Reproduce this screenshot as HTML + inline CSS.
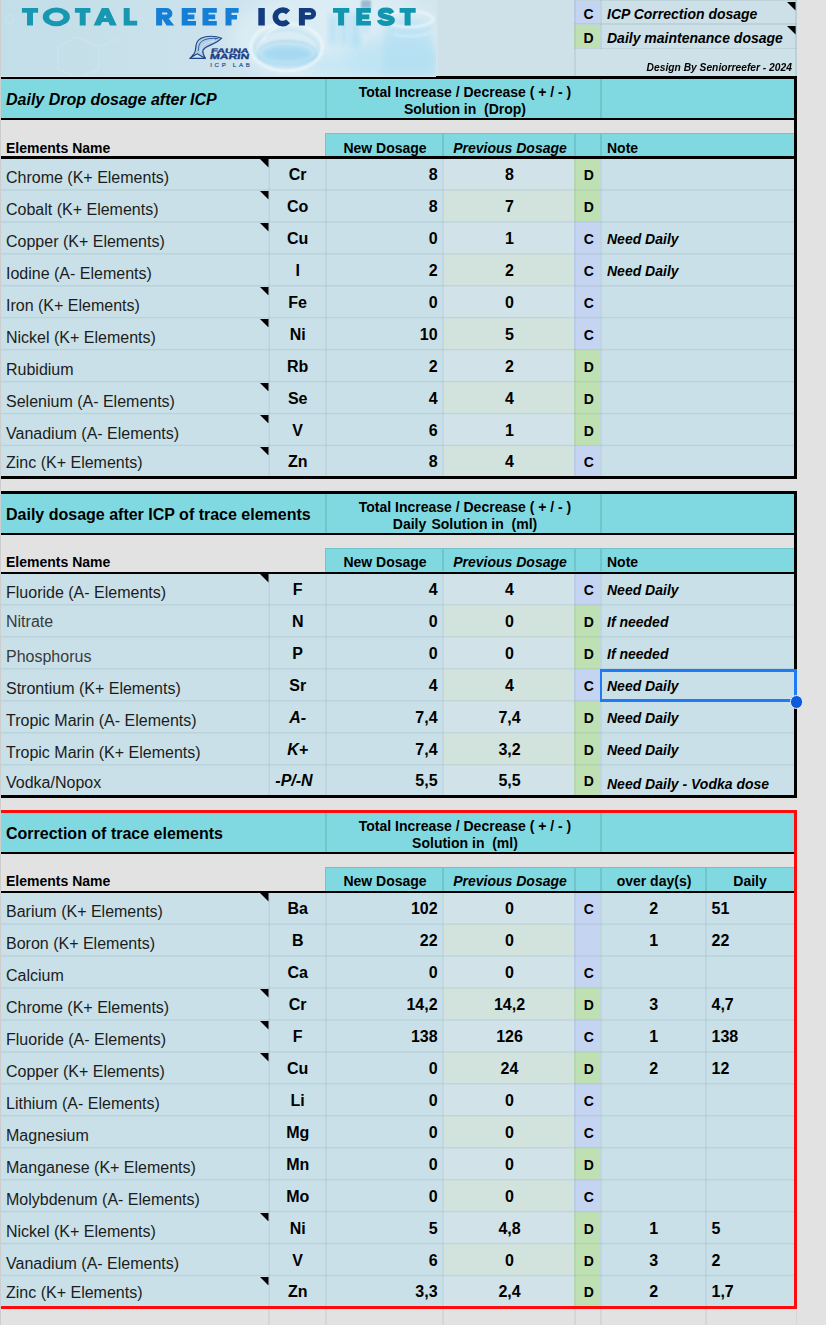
<!DOCTYPE html>
<html><head><meta charset="utf-8"><title>Total Reef ICP Test</title>
<style>
html,body{margin:0;padding:0;}
body{width:826px;height:1325px;position:relative;overflow:hidden;background:#e2e2e2;font-family:"Liberation Sans",sans-serif;color:#000;}
#s{position:absolute;left:0;top:0;width:826px;height:1325px;overflow:hidden;background:#e2e2e2;}
#s div,#s span.t,#s svg.a{position:absolute;}
.t{white-space:nowrap;}
.b{font-weight:bold;}
.bi{font-weight:bold;font-style:italic;}
</style></head><body><div id="s">
<svg class="a" style="left:0;top:0" width="797" height="77" viewBox="0 0 797 77">
<defs>
<linearGradient id="bg" x1="0" x2="1" y1="0" y2="0">
<stop offset="0" stop-color="#c2dee8"/><stop offset=".25" stop-color="#cbe2ec"/><stop offset=".45" stop-color="#d3e7f0"/><stop offset=".548" stop-color="#d3e6ee"/><stop offset=".55" stop-color="#cfe1e8"/><stop offset="1" stop-color="#cfe1e8"/>
</linearGradient>
<filter id="b1" x="-30%" y="-30%" width="160%" height="160%"><feGaussianBlur stdDeviation="1.2"/></filter>
<filter id="b2" x="-30%" y="-30%" width="160%" height="160%"><feGaussianBlur stdDeviation="3"/></filter>
<filter id="b3" x="-30%" y="-30%" width="160%" height="160%"><feGaussianBlur stdDeviation="7"/></filter>
<clipPath id="ph"><rect x="0" y="0" width="436" height="77"/></clipPath>
</defs>
<rect x="0" y="0" width="797" height="77" fill="url(#bg)"/>
<g clip-path="url(#ph)">
<ellipse cx="335" cy="38" rx="105" ry="48" fill="#e2f1f8" opacity=".6" filter="url(#b3)"/>
<ellipse cx="395" cy="58" rx="48" ry="22" fill="#b4e0f2" opacity=".6" filter="url(#b3)"/>
<ellipse cx="345" cy="66" rx="40" ry="12" fill="#b9e4f5" opacity=".6" filter="url(#b3)"/>
<rect x="329" y="14" width="8" height="32" rx="4" fill="#a3dbf3" opacity=".6" filter="url(#b2)"/>
<rect x="340" y="9" width="8" height="38" rx="4" fill="#a3dbf3" opacity=".6" filter="url(#b2)"/>
<rect x="351" y="12" width="9" height="36" rx="4" fill="#9ed8f2" opacity=".6" filter="url(#b2)"/>
<rect x="361" y="0" width="10" height="9" rx="2" fill="#7fa6c4" opacity=".7" filter="url(#b1)"/>
<rect x="362" y="8" width="8" height="26" rx="2" fill="#c4e6f5" opacity=".6" filter="url(#b1)"/>
<ellipse cx="287" cy="54" rx="27" ry="9.5" fill="#8fd2f0" opacity=".7" filter="url(#b2)"/>
<ellipse cx="286.5" cy="47" rx="36" ry="23.5" fill="none" stroke="#f0f8fc" stroke-width="2.6" opacity=".85" filter="url(#b1)"/>
<ellipse cx="286.5" cy="49" rx="32" ry="19" fill="none" stroke="#a6daf2" stroke-width="1.6" opacity=".6" filter="url(#b1)"/>
<ellipse cx="287" cy="53" rx="29" ry="12" fill="none" stroke="#74c4e8" stroke-width="1.3" opacity=".5" filter="url(#b1)"/>
<path d="M262 41q6 -12 22 -16" fill="none" stroke="#ffffff" stroke-width="1.6" opacity=".7" filter="url(#b1)"/>
<path d="M385 24q20 -12 46 0l5 52h-54z" fill="#a9ddf3" opacity=".5" filter="url(#b2)"/>
<ellipse cx="409" cy="19" rx="24" ry="8" fill="none" stroke="#eef8fc" stroke-width="2.2" opacity=".85" filter="url(#b1)"/>
<path d="M394 34q16 6 38 -2" fill="none" stroke="#d9f0fa" stroke-width="2" opacity=".7" filter="url(#b1)"/>
</g>
<g fill="none" stroke="#dcecf3" stroke-width="1.3" opacity=".3">
<path d="M58 47l19 -10l22 10v22l-21 9l-20 -9z"/>
<path d="M6 17l4 -3l4 3v4l-4 3l-4 -3z"/>
<path d="M99 47l20 -9"/>
</g>
<path d="M21.9 8.1h16.2v4.6h-16.2zM27.0 8.1h6.0v17.5h-6.0zM42.7 16.9a13.6 9.3 0 1 0 27.2 0a13.6 9.3 0 1 0 -27.2 0zM49.1 16.9a7.2 4.4 0 1 1 14.4 0a7.2 4.4 0 1 1 -14.4 0zM74.9 8.1h15.5v4.6h-15.5zM79.7 8.1h6.0v17.5h-6.0zM123.7 8.1h6.0v17.5h-6.0zM123.7 20.7h13.5v4.9h-13.5z" fill="#1898b0" fill-rule="nonzero"/>
<path d="M93.6 25.6L101.8 8.1L108.6 8.1L116.8 25.6L109.9 25.6L105.2 14.7L100.5 25.6zM98.1 18.0h14.2v4.0h-14.2z" fill="#1898b0" fill-rule="nonzero"/>
<path d="M156.1 8.1h6.0v17.5h-6.0zM156.1 8.1H167.0a5.4 5.4 0 0 1 0 10.8H156.1zM162.1 12.5v2.0H166.5a1.0 1.0 0 0 0 0 -2.0zM181.7 8.1h6.0v17.5h-6.0zM181.7 8.1h14.3v4.6h-14.3zM181.7 14.6h12.7v4.6h-12.7zM181.7 21.0h14.3v4.6h-14.3zM202.5 8.1h6.0v17.5h-6.0zM202.5 8.1h14.3v4.6h-14.3zM202.5 14.6h12.7v4.6h-12.7zM202.5 21.0h14.3v4.6h-14.3zM225.5 8.1h6.0v17.5h-6.0zM225.5 8.1h13.1v4.6h-13.1zM225.5 14.9h11.5v4.6h-11.5z" fill="#157fd6" fill-rule="nonzero"/>
<path d="M161.6 17.9L168.3 17.9L174.2 25.6L166.6 25.6z" fill="#157fd6" fill-rule="nonzero"/>
<path d="M258.3 8.1h6.5v17.5h-6.5zM298.9 8.1h6.0v17.5h-6.0zM298.9 8.1H310.4a5.7 5.7 0 0 1 0 11.4H298.9zM304.9 12.5v2.6H309.9a1.3 1.3 0 0 0 0 -2.6z" fill="#133c7e" fill-rule="nonzero"/>
<path d="M288.1 12.3A7.3 6.8 0 1 0 288.1 21.4" fill="none" stroke="#133c7e" stroke-width="5.6"/>
<path d="M333.0 8.1h16.3v4.6h-16.3zM338.1 8.1h6.0v17.5h-6.0zM356.2 8.1h6.0v17.5h-6.0zM356.2 8.1h14.7v4.6h-14.7zM356.2 14.6h13.1v4.6h-13.1zM356.2 21.0h14.7v4.6h-14.7zM399.6 8.1h16.1v4.6h-16.1zM404.6 8.1h6.0v17.5h-6.0z" fill="#1295ae" fill-rule="nonzero"/>
<path d="M392.0 13.2C390.3 9.9 388.1 10.2 386.1 10.2C380.5 10.2 380.3 12.7 380.3 13.4C380.3 16.2 384.1 16.2 386.1 16.9C389.1 17.7 392.3 17.9 392.3 20.1C392.3 22.5 389.1 23.5 386.1 23.5C381.5 23.5 380.0 22.0 379.4 19.9" fill="none" stroke="#1295ae" stroke-width="5.2"/>
<g stroke="#1d4588" stroke-linejoin="round" stroke-linecap="round">
<path d="M221.7 38.2C217 36.4 210 35.8 204.5 37C199.5 38.2 196.6 41 196 45.5C195.6 49.5 195.6 51.5 194.2 53.5C193 55.3 191.2 57 190 58.3C192.5 56.8 195 54.6 197.4 53.8C199.5 55 202.5 56.8 205.3 58.3C204 55.8 202.6 53.4 202.8 51C203.2 48.6 206 47 209.8 45.4C214 43.6 218.5 41.6 221.7 38.2Z" fill="#7d9bcc" fill-opacity=".3" stroke-width="1.2"/>
<path d="M190 58.4H205.3" stroke-width="1.1" fill="none"/>
<path d="M218 38.6C212 37.8 205.5 38.6 201.8 41.2C198.8 43.5 198.6 47 198.3 50.5" stroke-width=".9" fill="none" stroke="#2a55a0"/>
<path d="M214.5 40.8C209.5 41.6 205 43.4 202.6 45.8C201 47.5 200.6 49.5 200.6 52" stroke-width=".7" fill="none" stroke="#eaf3fa" opacity=".8"/>
<circle cx="215.6" cy="38.9" r=".5" fill="#1d4588" stroke="none"/>
</g>
<g font-family="Liberation Sans, sans-serif" font-weight="bold" fill="#1b3c84" stroke="#1b3c84" stroke-width=".3">
<text transform="translate(210.8 52.8) skewX(-10)" font-size="6.6" textLength="37.6" lengthAdjust="spacingAndGlyphs">FAUNA</text>
<text transform="translate(209.6 59.3) skewX(-10)" font-size="7.6" textLength="39.2" lengthAdjust="spacingAndGlyphs">MARIN</text>
<text x="210.2" y="66.8" font-size="6.1" font-weight="normal" stroke-width=".2" textLength="39.6" lengthAdjust="spacing" fill="#2d4f8e" stroke="#2d4f8e">ICP LAB</text>
</g>
</svg>
<div style="left:574.1px;top:0px;width:222.9px;height:76.2px;background:#cfe1e8;"></div>
<div style="left:574.1px;top:1.2px;width:26.1px;height:22.4px;background:#c5d4f0;"></div>
<div style="left:574.1px;top:25.2px;width:26.1px;height:22.6px;background:#bfe0b2;"></div>
<div style="left:601.8px;top:1.2px;width:193.3px;height:22.4px;background:#cde0e7;"></div>
<div style="left:601.8px;top:25.2px;width:193.3px;height:22.6px;background:#cde0e7;"></div>
<div style="left:574.1px;top:-0.4px;width:222.9px;height:1.8px;background:rgba(140,170,180,.24);"></div>
<div style="left:574.1px;top:23.4px;width:222.9px;height:1.8px;background:rgba(140,170,180,.24);"></div>
<div style="left:574.1px;top:47.6px;width:222.9px;height:1.8px;background:rgba(140,170,180,.24);"></div>
<div style="left:574.2px;top:0px;width:1.6px;height:76px;background:rgba(140,170,180,.24);"></div>
<div style="left:600.2px;top:0px;width:1.6px;height:48.5px;background:rgba(140,170,180,.24);"></div>
<div style="left:795.1px;top:0px;width:1.9px;height:76.2px;background:rgba(140,170,185,.30);"></div>
<span class="t b" style="top:7px;font-size:14px;line-height:14px;left:438.6px;width:300px;text-align:center;">C</span>
<span class="t b" style="top:31px;font-size:14px;line-height:14px;left:438.6px;width:300px;text-align:center;">D</span>
<span class="t bi" style="top:7px;font-size:14px;line-height:14px;left:607px;">ICP Correction dosage</span>
<span class="t bi" style="top:31px;font-size:14px;line-height:14px;left:607px;">Daily maintenance dosage</span>
<svg class="a" style="left:787.1px;top:2.1px" width="8.5" height="8.5" viewBox="0 0 8.5 8.5"><path d="M0 0H8.5V8.5Z" fill="#000"/></svg>
<svg class="a" style="left:787px;top:26px" width="8.6" height="8.6" viewBox="0 0 8.6 8.6"><path d="M0 0H8.6V8.6Z" fill="#000"/></svg>
<span class="t bi" style="right:33.9px;top:62px;font-size:11px;line-height:11px;transform:scaleX(.932);transform-origin:100% 50%">Design By Seniorreefer - 2024</span>
<div style="left:268.4px;top:1309px;width:1.6px;height:16px;background:#d6d6d6;"></div>
<div style="left:325.2px;top:1309px;width:1.6px;height:16px;background:#d6d6d6;"></div>
<div style="left:442.2px;top:1309px;width:1.6px;height:16px;background:#d6d6d6;"></div>
<div style="left:574.2px;top:1309px;width:1.6px;height:16px;background:#d6d6d6;"></div>
<div style="left:600.2px;top:1309px;width:1.6px;height:16px;background:#d6d6d6;"></div>
<div style="left:705.2px;top:1309px;width:1.6px;height:16px;background:#d6d6d6;"></div>
<div style="left:795.7px;top:1309px;width:1.4px;height:16px;background:#d6d6d6;"></div>
<div style="left:0px;top:78.5px;width:794.2px;height:39.7px;background:#80d9e0;"></div>
<div style="left:325.2px;top:79px;width:1.6px;height:38.7px;background:#72c4cb;"></div>
<div style="left:600.2px;top:79px;width:1.6px;height:38.7px;background:#72c4cb;"></div>
<div style="left:0px;top:76px;width:797.2px;height:3px;background:#000;"></div>
<div style="left:0px;top:76px;width:436px;height:1.1px;background:#d3e6ee;"></div>
<div style="left:0px;top:117.7px;width:794.2px;height:2.4px;background:#000;"></div>
<span class="t bi" style="top:92px;font-size:16px;line-height:16px;left:6px;">Daily Drop dosage after ICP</span>
<span class="t b" style="top:85px;font-size:14px;line-height:14px;left:315px;width:300px;text-align:center;">Total Increase / Decrease ( + / - )</span>
<span class="t b" style="top:102px;font-size:14px;line-height:14px;left:315px;width:300px;text-align:center;">Solution in&nbsp; (Drop)</span>
<div style="left:325.2px;top:132.7px;width:469px;height:24.2px;background:#80d9e0;"></div>
<div style="left:325.2px;top:132.7px;width:469px;height:1px;background:#72c4cb;"></div>
<div style="left:325.2px;top:132.7px;width:1.2px;height:23.7px;background:#72c4cb;"></div>
<div style="left:442.2px;top:133.5px;width:1.6px;height:22.9px;background:#72c4cb;"></div>
<div style="left:574.2px;top:133.5px;width:1.6px;height:22.9px;background:#72c4cb;"></div>
<div style="left:600.2px;top:133.5px;width:1.6px;height:22.9px;background:#72c4cb;"></div>
<span class="t b" style="top:141px;font-size:14px;line-height:14px;left:6px;">Elements Name</span>
<span class="t b" style="top:141px;font-size:14px;line-height:14px;left:235px;width:300px;text-align:center;">New Dosage</span>
<span class="t bi" style="top:141px;font-size:14px;line-height:14px;left:360px;width:300px;text-align:center;">Previous Dosage</span>
<span class="t b" style="top:141px;font-size:14px;line-height:14px;left:607px;">Note</span>
<div style="left:0px;top:158.7px;width:794.2px;height:317.8px;background:#c9e0e8;"></div>
<div style="left:443px;top:158px;width:131.1px;height:31.94px;background:#d1e3e9;"></div>
<div style="left:574.1px;top:158px;width:26.1px;height:31.94px;background:#bfe0b2;"></div>
<div style="left:443px;top:189.94px;width:131.1px;height:31.94px;background:#d2e3de;"></div>
<div style="left:574.1px;top:189.94px;width:26.1px;height:31.94px;background:#bfe0b2;"></div>
<div style="left:443px;top:221.88px;width:131.1px;height:31.94px;background:#d1e3e9;"></div>
<div style="left:574.1px;top:221.88px;width:26.1px;height:31.94px;background:#c5d4f0;"></div>
<div style="left:443px;top:253.82px;width:131.1px;height:31.94px;background:#d2e3de;"></div>
<div style="left:574.1px;top:253.82px;width:26.1px;height:31.94px;background:#c5d4f0;"></div>
<div style="left:443px;top:285.76px;width:131.1px;height:31.94px;background:#d1e3e9;"></div>
<div style="left:574.1px;top:285.76px;width:26.1px;height:31.94px;background:#c5d4f0;"></div>
<div style="left:443px;top:317.7px;width:131.1px;height:31.94px;background:#d2e3de;"></div>
<div style="left:574.1px;top:317.7px;width:26.1px;height:31.94px;background:#c5d4f0;"></div>
<div style="left:443px;top:349.64px;width:131.1px;height:31.94px;background:#d1e3e9;"></div>
<div style="left:574.1px;top:349.64px;width:26.1px;height:31.94px;background:#bfe0b2;"></div>
<div style="left:443px;top:381.58px;width:131.1px;height:31.94px;background:#d2e3de;"></div>
<div style="left:574.1px;top:381.58px;width:26.1px;height:31.94px;background:#bfe0b2;"></div>
<div style="left:443px;top:413.52px;width:131.1px;height:31.94px;background:#d1e3e9;"></div>
<div style="left:574.1px;top:413.52px;width:26.1px;height:31.94px;background:#bfe0b2;"></div>
<div style="left:443px;top:445.46px;width:131.1px;height:31.04px;background:#d2e3de;"></div>
<div style="left:574.1px;top:445.46px;width:26.1px;height:31.04px;background:#c5d4f0;"></div>
<div style="left:1px;top:189px;width:793.2px;height:1px;background:rgba(140,170,180,0.191);"></div>
<div style="left:1px;top:190px;width:793.2px;height:1px;background:rgba(140,170,180,0.160);"></div>
<div style="left:1px;top:221px;width:793.2px;height:1px;background:rgba(140,170,180,0.207);"></div>
<div style="left:1px;top:222px;width:793.2px;height:1px;background:rgba(140,170,180,0.144);"></div>
<div style="left:1px;top:253px;width:793.2px;height:1px;background:rgba(140,170,180,0.222);"></div>
<div style="left:1px;top:254px;width:793.2px;height:1px;background:rgba(140,170,180,0.129);"></div>
<div style="left:1px;top:285px;width:793.2px;height:1px;background:rgba(140,170,180,0.238);"></div>
<div style="left:1px;top:286px;width:793.2px;height:1px;background:rgba(140,170,180,0.113);"></div>
<div style="left:1px;top:317px;width:793.2px;height:1px;background:rgba(140,170,180,0.253);"></div>
<div style="left:1px;top:318px;width:793.2px;height:1px;background:rgba(140,170,180,0.098);"></div>
<div style="left:1px;top:348px;width:793.2px;height:1px;background:rgba(140,170,180,0.009);"></div>
<div style="left:1px;top:349px;width:793.2px;height:1px;background:rgba(140,170,180,0.260);"></div>
<div style="left:1px;top:350px;width:793.2px;height:1px;background:rgba(140,170,180,0.082);"></div>
<div style="left:1px;top:380px;width:793.2px;height:1px;background:rgba(140,170,180,0.025);"></div>
<div style="left:1px;top:381px;width:793.2px;height:1px;background:rgba(140,170,180,0.260);"></div>
<div style="left:1px;top:382px;width:793.2px;height:1px;background:rgba(140,170,180,0.066);"></div>
<div style="left:1px;top:412px;width:793.2px;height:1px;background:rgba(140,170,180,0.040);"></div>
<div style="left:1px;top:413px;width:793.2px;height:1px;background:rgba(140,170,180,0.260);"></div>
<div style="left:1px;top:414px;width:793.2px;height:1px;background:rgba(140,170,180,0.051);"></div>
<div style="left:1px;top:444px;width:793.2px;height:1px;background:rgba(140,170,180,0.056);"></div>
<div style="left:1px;top:445px;width:793.2px;height:1px;background:rgba(140,170,180,0.260);"></div>
<div style="left:1px;top:446px;width:793.2px;height:1px;background:rgba(140,170,180,0.035);"></div>
<div style="left:268px;top:158.7px;width:1px;height:317.8px;background:rgba(140,170,180,0.124);"></div>
<div style="left:269px;top:158.7px;width:1px;height:317.8px;background:rgba(140,170,180,0.228);"></div>
<div style="left:325px;top:158.7px;width:1px;height:317.8px;background:rgba(140,170,180,0.176);"></div>
<div style="left:326px;top:158.7px;width:1px;height:317.8px;background:rgba(140,170,180,0.176);"></div>
<div style="left:442px;top:158.7px;width:1px;height:317.8px;background:rgba(140,170,180,0.176);"></div>
<div style="left:443px;top:158.7px;width:1px;height:317.8px;background:rgba(140,170,180,0.176);"></div>
<div style="left:574px;top:158.7px;width:1px;height:317.8px;background:rgba(140,170,180,0.175);"></div>
<div style="left:575px;top:158.7px;width:1px;height:317.8px;background:rgba(140,170,180,0.175);"></div>
<div style="left:600px;top:158.7px;width:1px;height:317.8px;background:rgba(140,170,180,0.175);"></div>
<div style="left:601px;top:158.7px;width:1px;height:317.8px;background:rgba(140,170,180,0.175);"></div>
<div style="left:0px;top:156.4px;width:794.2px;height:2.8px;background:#000;"></div>
<span class="t" style="top:170px;font-size:16px;line-height:16px;left:6px;color:#1c1c1c;">Chrome (K+ Elements)</span>
<span class="t b" style="top:167px;font-size:16px;line-height:16px;left:147.7px;width:300px;text-align:center;">Cr</span>
<span class="t b" style="top:167px;font-size:16px;line-height:16px;right:388.4px;">8</span>
<span class="t b" style="top:167px;font-size:16px;line-height:16px;left:359.5px;width:300px;text-align:center;">8</span>
<span class="t b" style="top:168px;font-size:14px;line-height:14px;left:438.8px;width:300px;text-align:center;">D</span>
<svg class="a" style="left:260px;top:159.2px" width="8.5" height="8.5" viewBox="0 0 8.5 8.5"><path d="M0 0H8.5V8.5Z" fill="#000"/></svg>
<span class="t" style="top:202px;font-size:16px;line-height:16px;left:6px;color:#1c1c1c;">Cobalt (K+ Elements)</span>
<span class="t b" style="top:199px;font-size:16px;line-height:16px;left:147.7px;width:300px;text-align:center;">Co</span>
<span class="t b" style="top:199px;font-size:16px;line-height:16px;right:388.4px;">8</span>
<span class="t b" style="top:199px;font-size:16px;line-height:16px;left:359.5px;width:300px;text-align:center;">7</span>
<span class="t b" style="top:200px;font-size:14px;line-height:14px;left:438.8px;width:300px;text-align:center;">D</span>
<svg class="a" style="left:260px;top:191.14px" width="8.5" height="8.5" viewBox="0 0 8.5 8.5"><path d="M0 0H8.5V8.5Z" fill="#000"/></svg>
<span class="t" style="top:234px;font-size:16px;line-height:16px;left:6px;color:#1c1c1c;">Copper (K+ Elements)</span>
<span class="t b" style="top:231px;font-size:16px;line-height:16px;left:147.7px;width:300px;text-align:center;">Cu</span>
<span class="t b" style="top:231px;font-size:16px;line-height:16px;right:388.4px;">0</span>
<span class="t b" style="top:231px;font-size:16px;line-height:16px;left:359.5px;width:300px;text-align:center;">1</span>
<span class="t b" style="top:232px;font-size:14px;line-height:14px;left:438.8px;width:300px;text-align:center;">C</span>
<span class="t bi" style="top:232px;font-size:14px;line-height:14px;left:607px;">Need Daily</span>
<svg class="a" style="left:260px;top:223.08px" width="8.5" height="8.5" viewBox="0 0 8.5 8.5"><path d="M0 0H8.5V8.5Z" fill="#000"/></svg>
<span class="t" style="top:266px;font-size:16px;line-height:16px;left:6px;color:#1c1c1c;">Iodine (A- Elements)</span>
<span class="t b" style="top:263px;font-size:16px;line-height:16px;left:147.7px;width:300px;text-align:center;">I</span>
<span class="t b" style="top:263px;font-size:16px;line-height:16px;right:388.4px;">2</span>
<span class="t b" style="top:263px;font-size:16px;line-height:16px;left:359.5px;width:300px;text-align:center;">2</span>
<span class="t b" style="top:264px;font-size:14px;line-height:14px;left:438.8px;width:300px;text-align:center;">C</span>
<span class="t bi" style="top:264px;font-size:14px;line-height:14px;left:607px;">Need Daily</span>
<span class="t" style="top:298px;font-size:16px;line-height:16px;left:6px;color:#1c1c1c;">Iron (K+ Elements)</span>
<span class="t b" style="top:295px;font-size:16px;line-height:16px;left:147.7px;width:300px;text-align:center;">Fe</span>
<span class="t b" style="top:295px;font-size:16px;line-height:16px;right:388.4px;">0</span>
<span class="t b" style="top:295px;font-size:16px;line-height:16px;left:359.5px;width:300px;text-align:center;">0</span>
<span class="t b" style="top:296px;font-size:14px;line-height:14px;left:438.8px;width:300px;text-align:center;">C</span>
<svg class="a" style="left:260px;top:286.96px" width="8.5" height="8.5" viewBox="0 0 8.5 8.5"><path d="M0 0H8.5V8.5Z" fill="#000"/></svg>
<span class="t" style="top:330px;font-size:16px;line-height:16px;left:6px;color:#1c1c1c;">Nickel (K+ Elements)</span>
<span class="t b" style="top:327px;font-size:16px;line-height:16px;left:147.7px;width:300px;text-align:center;">Ni</span>
<span class="t b" style="top:327px;font-size:16px;line-height:16px;right:388.4px;">10</span>
<span class="t b" style="top:327px;font-size:16px;line-height:16px;left:359.5px;width:300px;text-align:center;">5</span>
<span class="t b" style="top:328px;font-size:14px;line-height:14px;left:438.8px;width:300px;text-align:center;">C</span>
<svg class="a" style="left:260px;top:318.9px" width="8.5" height="8.5" viewBox="0 0 8.5 8.5"><path d="M0 0H8.5V8.5Z" fill="#000"/></svg>
<span class="t" style="top:362px;font-size:16px;line-height:16px;left:6px;color:#1c1c1c;">Rubidium</span>
<span class="t b" style="top:359px;font-size:16px;line-height:16px;left:147.7px;width:300px;text-align:center;">Rb</span>
<span class="t b" style="top:359px;font-size:16px;line-height:16px;right:388.4px;">2</span>
<span class="t b" style="top:359px;font-size:16px;line-height:16px;left:359.5px;width:300px;text-align:center;">2</span>
<span class="t b" style="top:360px;font-size:14px;line-height:14px;left:438.8px;width:300px;text-align:center;">D</span>
<span class="t" style="top:394px;font-size:16px;line-height:16px;left:6px;color:#1c1c1c;">Selenium (A- Elements)</span>
<span class="t b" style="top:391px;font-size:16px;line-height:16px;left:147.7px;width:300px;text-align:center;">Se</span>
<span class="t b" style="top:391px;font-size:16px;line-height:16px;right:388.4px;">4</span>
<span class="t b" style="top:391px;font-size:16px;line-height:16px;left:359.5px;width:300px;text-align:center;">4</span>
<span class="t b" style="top:392px;font-size:14px;line-height:14px;left:438.8px;width:300px;text-align:center;">D</span>
<svg class="a" style="left:260px;top:382.78px" width="8.5" height="8.5" viewBox="0 0 8.5 8.5"><path d="M0 0H8.5V8.5Z" fill="#000"/></svg>
<span class="t" style="top:426px;font-size:16px;line-height:16px;left:6px;color:#1c1c1c;">Vanadium (A- Elements)</span>
<span class="t b" style="top:423px;font-size:16px;line-height:16px;left:147.7px;width:300px;text-align:center;">V</span>
<span class="t b" style="top:423px;font-size:16px;line-height:16px;right:388.4px;">6</span>
<span class="t b" style="top:423px;font-size:16px;line-height:16px;left:359.5px;width:300px;text-align:center;">1</span>
<span class="t b" style="top:424px;font-size:14px;line-height:14px;left:438.8px;width:300px;text-align:center;">D</span>
<svg class="a" style="left:260px;top:414.72px" width="8.5" height="8.5" viewBox="0 0 8.5 8.5"><path d="M0 0H8.5V8.5Z" fill="#000"/></svg>
<span class="t" style="top:455px;font-size:16px;line-height:16px;left:6px;color:#1c1c1c;">Zinc (K+ Elements)</span>
<span class="t b" style="top:454px;font-size:16px;line-height:16px;left:147.7px;width:300px;text-align:center;">Zn</span>
<span class="t b" style="top:454px;font-size:16px;line-height:16px;right:388.4px;">8</span>
<span class="t b" style="top:454px;font-size:16px;line-height:16px;left:359.5px;width:300px;text-align:center;">4</span>
<span class="t b" style="top:455px;font-size:14px;line-height:14px;left:438.8px;width:300px;text-align:center;">C</span>
<svg class="a" style="left:260px;top:446.66px" width="8.5" height="8.5" viewBox="0 0 8.5 8.5"><path d="M0 0H8.5V8.5Z" fill="#000"/></svg>
<div style="left:794.2px;top:76px;width:3px;height:403px;background:#000;"></div>
<div style="left:0px;top:476px;width:797.2px;height:3px;background:#000;"></div>
<div style="left:0px;top:493.7px;width:794.2px;height:39.8px;background:#80d9e0;"></div>
<div style="left:325.2px;top:494.2px;width:1.6px;height:38.8px;background:#72c4cb;"></div>
<div style="left:600.2px;top:494.2px;width:1.6px;height:38.8px;background:#72c4cb;"></div>
<div style="left:0px;top:491.1px;width:797.2px;height:3.1px;background:#000;"></div>
<div style="left:0px;top:533px;width:794.2px;height:2.1px;background:#000;"></div>
<span class="t b" style="top:507px;font-size:16px;line-height:16px;left:6px;">Daily dosage after ICP of trace elements</span>
<span class="t b" style="top:500px;font-size:14px;line-height:14px;left:315px;width:300px;text-align:center;">Total Increase / Decrease ( + / - )</span>
<span class="t b" style="top:517px;font-size:14px;line-height:14px;left:315px;width:300px;text-align:center;">Daily<span style="letter-spacing:1.3px"> </span>Solution in&nbsp; (ml)</span>
<div style="left:325.2px;top:548.1px;width:469px;height:23.9px;background:#80d9e0;"></div>
<div style="left:325.2px;top:548.1px;width:469px;height:1px;background:#72c4cb;"></div>
<div style="left:325.2px;top:548.1px;width:1.2px;height:23.4px;background:#72c4cb;"></div>
<div style="left:442.2px;top:548.9px;width:1.6px;height:22.6px;background:#72c4cb;"></div>
<div style="left:574.2px;top:548.9px;width:1.6px;height:22.6px;background:#72c4cb;"></div>
<div style="left:600.2px;top:548.9px;width:1.6px;height:22.6px;background:#72c4cb;"></div>
<span class="t b" style="top:555px;font-size:14px;line-height:14px;left:6px;">Elements Name</span>
<span class="t b" style="top:555px;font-size:14px;line-height:14px;left:235px;width:300px;text-align:center;">New Dosage</span>
<span class="t bi" style="top:555px;font-size:14px;line-height:14px;left:360px;width:300px;text-align:center;">Previous Dosage</span>
<span class="t b" style="top:555px;font-size:14px;line-height:14px;left:607px;">Note</span>
<div style="left:0px;top:573.5px;width:794.2px;height:221.7px;background:#c9e0e8;"></div>
<div style="left:443px;top:572.8px;width:131.1px;height:32px;background:#d1e3e9;"></div>
<div style="left:574.1px;top:572.8px;width:26.1px;height:32px;background:#c5d4f0;"></div>
<div style="left:443px;top:604.8px;width:131.1px;height:32px;background:#d2e3de;"></div>
<div style="left:574.1px;top:604.8px;width:26.1px;height:32px;background:#bfe0b2;"></div>
<div style="left:443px;top:636.8px;width:131.1px;height:32px;background:#d1e3e9;"></div>
<div style="left:574.1px;top:636.8px;width:26.1px;height:32px;background:#bfe0b2;"></div>
<div style="left:443px;top:668.8px;width:131.1px;height:32px;background:#d2e3de;"></div>
<div style="left:574.1px;top:668.8px;width:26.1px;height:32px;background:#c5d4f0;"></div>
<div style="left:443px;top:700.8px;width:131.1px;height:32px;background:#d1e3e9;"></div>
<div style="left:574.1px;top:700.8px;width:26.1px;height:32px;background:#bfe0b2;"></div>
<div style="left:443px;top:732.8px;width:131.1px;height:32px;background:#d2e3de;"></div>
<div style="left:574.1px;top:732.8px;width:26.1px;height:32px;background:#bfe0b2;"></div>
<div style="left:443px;top:764.8px;width:131.1px;height:30.4px;background:#d1e3e9;"></div>
<div style="left:574.1px;top:764.8px;width:26.1px;height:30.4px;background:#bfe0b2;"></div>
<div style="left:1px;top:604px;width:793.2px;height:1px;background:rgba(140,170,180,0.228);"></div>
<div style="left:1px;top:605px;width:793.2px;height:1px;background:rgba(140,170,180,0.123);"></div>
<div style="left:1px;top:636px;width:793.2px;height:1px;background:rgba(140,170,180,0.228);"></div>
<div style="left:1px;top:637px;width:793.2px;height:1px;background:rgba(140,170,180,0.123);"></div>
<div style="left:1px;top:668px;width:793.2px;height:1px;background:rgba(140,170,180,0.228);"></div>
<div style="left:1px;top:669px;width:793.2px;height:1px;background:rgba(140,170,180,0.123);"></div>
<div style="left:1px;top:700px;width:793.2px;height:1px;background:rgba(140,170,180,0.228);"></div>
<div style="left:1px;top:701px;width:793.2px;height:1px;background:rgba(140,170,180,0.123);"></div>
<div style="left:1px;top:732px;width:793.2px;height:1px;background:rgba(140,170,180,0.228);"></div>
<div style="left:1px;top:733px;width:793.2px;height:1px;background:rgba(140,170,180,0.123);"></div>
<div style="left:1px;top:764px;width:793.2px;height:1px;background:rgba(140,170,180,0.228);"></div>
<div style="left:1px;top:765px;width:793.2px;height:1px;background:rgba(140,170,180,0.123);"></div>
<div style="left:268px;top:573.5px;width:1px;height:221.7px;background:rgba(140,170,180,0.124);"></div>
<div style="left:269px;top:573.5px;width:1px;height:221.7px;background:rgba(140,170,180,0.228);"></div>
<div style="left:325px;top:573.5px;width:1px;height:221.7px;background:rgba(140,170,180,0.176);"></div>
<div style="left:326px;top:573.5px;width:1px;height:221.7px;background:rgba(140,170,180,0.176);"></div>
<div style="left:442px;top:573.5px;width:1px;height:221.7px;background:rgba(140,170,180,0.176);"></div>
<div style="left:443px;top:573.5px;width:1px;height:221.7px;background:rgba(140,170,180,0.176);"></div>
<div style="left:574px;top:573.5px;width:1px;height:221.7px;background:rgba(140,170,180,0.175);"></div>
<div style="left:575px;top:573.5px;width:1px;height:221.7px;background:rgba(140,170,180,0.175);"></div>
<div style="left:600px;top:573.5px;width:1px;height:221.7px;background:rgba(140,170,180,0.175);"></div>
<div style="left:601px;top:573.5px;width:1px;height:221.7px;background:rgba(140,170,180,0.175);"></div>
<div style="left:0px;top:571.5px;width:794.2px;height:2.5px;background:#000;"></div>
<span class="t" style="top:585px;font-size:16px;line-height:16px;left:6px;color:#1c1c1c;">Fluoride (A- Elements)</span>
<span class="t b" style="top:582px;font-size:16px;line-height:16px;left:147.7px;width:300px;text-align:center;">F</span>
<span class="t b" style="top:582px;font-size:16px;line-height:16px;right:388.4px;">4</span>
<span class="t b" style="top:582px;font-size:16px;line-height:16px;left:359.5px;width:300px;text-align:center;">4</span>
<span class="t b" style="top:583px;font-size:14px;line-height:14px;left:438.8px;width:300px;text-align:center;">C</span>
<span class="t bi" style="top:583px;font-size:14px;line-height:14px;left:607px;">Need Daily</span>
<svg class="a" style="left:260px;top:574px" width="8.5" height="8.5" viewBox="0 0 8.5 8.5"><path d="M0 0H8.5V8.5Z" fill="#000"/></svg>
<span class="t" style="top:614px;font-size:16px;line-height:16px;left:6px;color:#3a3a3a;">Nitrate</span>
<span class="t b" style="top:614px;font-size:16px;line-height:16px;left:147.7px;width:300px;text-align:center;">N</span>
<span class="t b" style="top:614px;font-size:16px;line-height:16px;right:388.4px;">0</span>
<span class="t b" style="top:614px;font-size:16px;line-height:16px;left:359.5px;width:300px;text-align:center;">0</span>
<span class="t b" style="top:615px;font-size:14px;line-height:14px;left:438.8px;width:300px;text-align:center;">D</span>
<span class="t bi" style="top:615px;font-size:14px;line-height:14px;left:607px;">If needed</span>
<span class="t" style="top:649px;font-size:16px;line-height:16px;left:6px;color:#3a3a3a;">Phosphorus</span>
<span class="t b" style="top:646px;font-size:16px;line-height:16px;left:147.7px;width:300px;text-align:center;">P</span>
<span class="t b" style="top:646px;font-size:16px;line-height:16px;right:388.4px;">0</span>
<span class="t b" style="top:646px;font-size:16px;line-height:16px;left:359.5px;width:300px;text-align:center;">0</span>
<span class="t b" style="top:647px;font-size:14px;line-height:14px;left:438.8px;width:300px;text-align:center;">D</span>
<span class="t bi" style="top:647px;font-size:14px;line-height:14px;left:607px;">If needed</span>
<span class="t" style="top:681px;font-size:16px;line-height:16px;left:6px;color:#1c1c1c;">Strontium (K+ Elements)</span>
<span class="t b" style="top:678px;font-size:16px;line-height:16px;left:147.7px;width:300px;text-align:center;">Sr</span>
<span class="t b" style="top:678px;font-size:16px;line-height:16px;right:388.4px;">4</span>
<span class="t b" style="top:678px;font-size:16px;line-height:16px;left:359.5px;width:300px;text-align:center;">4</span>
<span class="t b" style="top:679px;font-size:14px;line-height:14px;left:438.8px;width:300px;text-align:center;">C</span>
<span class="t bi" style="top:679px;font-size:14px;line-height:14px;left:607px;">Need Daily</span>
<span class="t" style="top:713px;font-size:16px;line-height:16px;left:6px;color:#1c1c1c;">Tropic Marin (A- Elements)</span>
<span class="t bi" style="top:710px;font-size:16px;line-height:16px;left:147.7px;width:300px;text-align:center;">A-</span>
<span class="t b" style="top:710px;font-size:16px;line-height:16px;right:388.4px;">7,4</span>
<span class="t b" style="top:710px;font-size:16px;line-height:16px;left:359.5px;width:300px;text-align:center;">7,4</span>
<span class="t b" style="top:711px;font-size:14px;line-height:14px;left:438.8px;width:300px;text-align:center;">D</span>
<span class="t bi" style="top:711px;font-size:14px;line-height:14px;left:607px;">Need Daily</span>
<span class="t" style="top:745px;font-size:16px;line-height:16px;left:6px;color:#1c1c1c;">Tropic Marin (K+ Elements)</span>
<span class="t bi" style="top:742px;font-size:16px;line-height:16px;left:147.7px;width:300px;text-align:center;">K+</span>
<span class="t b" style="top:742px;font-size:16px;line-height:16px;right:388.4px;">7,4</span>
<span class="t b" style="top:742px;font-size:16px;line-height:16px;left:359.5px;width:300px;text-align:center;">3,2</span>
<span class="t b" style="top:743px;font-size:14px;line-height:14px;left:438.8px;width:300px;text-align:center;">D</span>
<span class="t bi" style="top:743px;font-size:14px;line-height:14px;left:607px;">Need Daily</span>
<span class="t" style="top:775px;font-size:16px;line-height:16px;left:6px;color:#1c1c1c;">Vodka/Nopox</span>
<span class="t bi" style="top:773px;font-size:16px;line-height:16px;left:144px;width:300px;text-align:center;">-P/-N</span>
<span class="t b" style="top:773px;font-size:16px;line-height:16px;right:388.4px;">5,5</span>
<span class="t b" style="top:773px;font-size:16px;line-height:16px;left:359.5px;width:300px;text-align:center;">5,5</span>
<span class="t b" style="top:774px;font-size:14px;line-height:14px;left:438.8px;width:300px;text-align:center;">D</span>
<span class="t bi" style="top:777px;font-size:14px;line-height:14px;left:607px;">Need Daily - Vodka dose</span>
<div style="left:794.2px;top:491.1px;width:3px;height:306.9px;background:#000;"></div>
<div style="left:0px;top:794.7px;width:797.2px;height:3.3px;background:#000;"></div>
<div style="left:0px;top:812.5px;width:794.2px;height:40px;background:#80d9e0;"></div>
<div style="left:325.2px;top:813px;width:1.6px;height:39px;background:#72c4cb;"></div>
<div style="left:600.2px;top:813px;width:1.6px;height:39px;background:#72c4cb;"></div>
<div style="left:0px;top:810.1px;width:797.2px;height:2.9px;background:#fb0d0d;"></div>
<div style="left:0px;top:852px;width:794.2px;height:2.2px;background:#000;"></div>
<span class="t b" style="top:826px;font-size:16px;line-height:16px;left:6px;">Correction of trace elements</span>
<span class="t b" style="top:819px;font-size:14px;line-height:14px;left:315px;width:300px;text-align:center;">Total Increase / Decrease ( + / - )</span>
<span class="t b" style="top:836px;font-size:14px;line-height:14px;left:315px;width:300px;text-align:center;">Solution in&nbsp; (ml)</span>
<div style="left:325.2px;top:867.2px;width:469px;height:24.1px;background:#80d9e0;"></div>
<div style="left:325.2px;top:867.2px;width:469px;height:1px;background:#72c4cb;"></div>
<div style="left:325.2px;top:867.2px;width:1.2px;height:23.6px;background:#72c4cb;"></div>
<div style="left:442.2px;top:868px;width:1.6px;height:22.8px;background:#72c4cb;"></div>
<div style="left:574.2px;top:868px;width:1.6px;height:22.8px;background:#72c4cb;"></div>
<div style="left:600.2px;top:868px;width:1.6px;height:22.8px;background:#72c4cb;"></div>
<div style="left:705.2px;top:868px;width:1.6px;height:22.8px;background:#72c4cb;"></div>
<span class="t b" style="top:874px;font-size:14px;line-height:14px;left:6px;">Elements Name</span>
<span class="t b" style="top:874px;font-size:14px;line-height:14px;left:235px;width:300px;text-align:center;">New Dosage</span>
<span class="t bi" style="top:874px;font-size:14px;line-height:14px;left:360px;width:300px;text-align:center;">Previous Dosage</span>
<span class="t b" style="top:874px;font-size:14px;line-height:14px;left:504px;width:300px;text-align:center;">over day(s)</span>
<span class="t b" style="top:874px;font-size:14px;line-height:14px;left:600px;width:300px;text-align:center;">Daily</span>
<div style="left:0px;top:892.9px;width:794.2px;height:413.3px;background:#c9e0e8;"></div>
<div style="left:443px;top:892.2px;width:131.1px;height:31.94px;background:#d1e3e9;"></div>
<div style="left:574.1px;top:892.2px;width:26.1px;height:31.94px;background:#c5d4f0;"></div>
<div style="left:443px;top:924.14px;width:131.1px;height:31.94px;background:#d2e3de;"></div>
<div style="left:574.1px;top:924.14px;width:26.1px;height:31.94px;background:#c5d4f0;"></div>
<div style="left:443px;top:956.08px;width:131.1px;height:31.94px;background:#d1e3e9;"></div>
<div style="left:574.1px;top:956.08px;width:26.1px;height:31.94px;background:#c5d4f0;"></div>
<div style="left:443px;top:988.02px;width:131.1px;height:31.94px;background:#d2e3de;"></div>
<div style="left:574.1px;top:988.02px;width:26.1px;height:31.94px;background:#bfe0b2;"></div>
<div style="left:443px;top:1019.96px;width:131.1px;height:31.94px;background:#d1e3e9;"></div>
<div style="left:574.1px;top:1019.96px;width:26.1px;height:31.94px;background:#c5d4f0;"></div>
<div style="left:443px;top:1051.9px;width:131.1px;height:31.94px;background:#d2e3de;"></div>
<div style="left:574.1px;top:1051.9px;width:26.1px;height:31.94px;background:#bfe0b2;"></div>
<div style="left:443px;top:1083.84px;width:131.1px;height:31.94px;background:#d1e3e9;"></div>
<div style="left:574.1px;top:1083.84px;width:26.1px;height:31.94px;background:#c5d4f0;"></div>
<div style="left:443px;top:1115.78px;width:131.1px;height:31.94px;background:#d2e3de;"></div>
<div style="left:574.1px;top:1115.78px;width:26.1px;height:31.94px;background:#c5d4f0;"></div>
<div style="left:443px;top:1147.72px;width:131.1px;height:31.94px;background:#d1e3e9;"></div>
<div style="left:574.1px;top:1147.72px;width:26.1px;height:31.94px;background:#bfe0b2;"></div>
<div style="left:443px;top:1179.66px;width:131.1px;height:31.94px;background:#d2e3de;"></div>
<div style="left:574.1px;top:1179.66px;width:26.1px;height:31.94px;background:#c5d4f0;"></div>
<div style="left:443px;top:1211.6px;width:131.1px;height:31.94px;background:#d1e3e9;"></div>
<div style="left:574.1px;top:1211.6px;width:26.1px;height:31.94px;background:#bfe0b2;"></div>
<div style="left:443px;top:1243.54px;width:131.1px;height:31.94px;background:#d2e3de;"></div>
<div style="left:574.1px;top:1243.54px;width:26.1px;height:31.94px;background:#bfe0b2;"></div>
<div style="left:443px;top:1275.48px;width:131.1px;height:30.72px;background:#d1e3e9;"></div>
<div style="left:574.1px;top:1275.48px;width:26.1px;height:30.72px;background:#bfe0b2;"></div>
<div style="left:1px;top:923px;width:793.2px;height:1px;background:rgba(140,170,180,0.139);"></div>
<div style="left:1px;top:924px;width:793.2px;height:1px;background:rgba(140,170,180,0.212);"></div>
<div style="left:1px;top:955px;width:793.2px;height:1px;background:rgba(140,170,180,0.155);"></div>
<div style="left:1px;top:956px;width:793.2px;height:1px;background:rgba(140,170,180,0.196);"></div>
<div style="left:1px;top:987px;width:793.2px;height:1px;background:rgba(140,170,180,0.170);"></div>
<div style="left:1px;top:988px;width:793.2px;height:1px;background:rgba(140,170,180,0.181);"></div>
<div style="left:1px;top:1019px;width:793.2px;height:1px;background:rgba(140,170,180,0.186);"></div>
<div style="left:1px;top:1020px;width:793.2px;height:1px;background:rgba(140,170,180,0.165);"></div>
<div style="left:1px;top:1051px;width:793.2px;height:1px;background:rgba(140,170,180,0.201);"></div>
<div style="left:1px;top:1052px;width:793.2px;height:1px;background:rgba(140,170,180,0.150);"></div>
<div style="left:1px;top:1083px;width:793.2px;height:1px;background:rgba(140,170,180,0.217);"></div>
<div style="left:1px;top:1084px;width:793.2px;height:1px;background:rgba(140,170,180,0.134);"></div>
<div style="left:1px;top:1115px;width:793.2px;height:1px;background:rgba(140,170,180,0.233);"></div>
<div style="left:1px;top:1116px;width:793.2px;height:1px;background:rgba(140,170,180,0.118);"></div>
<div style="left:1px;top:1147px;width:793.2px;height:1px;background:rgba(140,170,180,0.248);"></div>
<div style="left:1px;top:1148px;width:793.2px;height:1px;background:rgba(140,170,180,0.103);"></div>
<div style="left:1px;top:1179px;width:793.2px;height:1px;background:rgba(140,170,180,0.260);"></div>
<div style="left:1px;top:1180px;width:793.2px;height:1px;background:rgba(140,170,180,0.087);"></div>
<div style="left:1px;top:1210px;width:793.2px;height:1px;background:rgba(140,170,180,0.019);"></div>
<div style="left:1px;top:1211px;width:793.2px;height:1px;background:rgba(140,170,180,0.260);"></div>
<div style="left:1px;top:1212px;width:793.2px;height:1px;background:rgba(140,170,180,0.072);"></div>
<div style="left:1px;top:1242px;width:793.2px;height:1px;background:rgba(140,170,180,0.035);"></div>
<div style="left:1px;top:1243px;width:793.2px;height:1px;background:rgba(140,170,180,0.260);"></div>
<div style="left:1px;top:1244px;width:793.2px;height:1px;background:rgba(140,170,180,0.056);"></div>
<div style="left:1px;top:1274px;width:793.2px;height:1px;background:rgba(140,170,180,0.051);"></div>
<div style="left:1px;top:1275px;width:793.2px;height:1px;background:rgba(140,170,180,0.260);"></div>
<div style="left:1px;top:1276px;width:793.2px;height:1px;background:rgba(140,170,180,0.040);"></div>
<div style="left:268px;top:892.9px;width:1px;height:413.3px;background:rgba(140,170,180,0.124);"></div>
<div style="left:269px;top:892.9px;width:1px;height:413.3px;background:rgba(140,170,180,0.228);"></div>
<div style="left:325px;top:892.9px;width:1px;height:413.3px;background:rgba(140,170,180,0.176);"></div>
<div style="left:326px;top:892.9px;width:1px;height:413.3px;background:rgba(140,170,180,0.176);"></div>
<div style="left:442px;top:892.9px;width:1px;height:413.3px;background:rgba(140,170,180,0.176);"></div>
<div style="left:443px;top:892.9px;width:1px;height:413.3px;background:rgba(140,170,180,0.176);"></div>
<div style="left:574px;top:892.9px;width:1px;height:413.3px;background:rgba(140,170,180,0.175);"></div>
<div style="left:575px;top:892.9px;width:1px;height:413.3px;background:rgba(140,170,180,0.175);"></div>
<div style="left:600px;top:892.9px;width:1px;height:413.3px;background:rgba(140,170,180,0.175);"></div>
<div style="left:601px;top:892.9px;width:1px;height:413.3px;background:rgba(140,170,180,0.175);"></div>
<div style="left:705px;top:892.9px;width:1px;height:413.3px;background:rgba(140,170,180,0.175);"></div>
<div style="left:706px;top:892.9px;width:1px;height:413.3px;background:rgba(140,170,180,0.175);"></div>
<div style="left:0px;top:890.8px;width:794.2px;height:2.6px;background:#000;"></div>
<span class="t" style="top:904px;font-size:16px;line-height:16px;left:6px;color:#1c1c1c;">Barium (K+ Elements)</span>
<span class="t b" style="top:901px;font-size:16px;line-height:16px;left:147.7px;width:300px;text-align:center;">Ba</span>
<span class="t b" style="top:901px;font-size:16px;line-height:16px;right:388.4px;">102</span>
<span class="t b" style="top:901px;font-size:16px;line-height:16px;left:359.5px;width:300px;text-align:center;">0</span>
<span class="t b" style="top:902px;font-size:14px;line-height:14px;left:438.8px;width:300px;text-align:center;">C</span>
<span class="t b" style="top:901px;font-size:16px;line-height:16px;left:503.8px;width:300px;text-align:center;">2</span>
<span class="t b" style="top:901px;font-size:16px;line-height:16px;left:711.5px;">51</span>
<svg class="a" style="left:260px;top:893.4px" width="8.5" height="8.5" viewBox="0 0 8.5 8.5"><path d="M0 0H8.5V8.5Z" fill="#000"/></svg>
<span class="t" style="top:936px;font-size:16px;line-height:16px;left:6px;color:#1c1c1c;">Boron (K+ Elements)</span>
<span class="t b" style="top:933px;font-size:16px;line-height:16px;left:147.7px;width:300px;text-align:center;">B</span>
<span class="t b" style="top:933px;font-size:16px;line-height:16px;right:388.4px;">22</span>
<span class="t b" style="top:933px;font-size:16px;line-height:16px;left:359.5px;width:300px;text-align:center;">0</span>
<span class="t b" style="top:933px;font-size:16px;line-height:16px;left:503.8px;width:300px;text-align:center;">1</span>
<span class="t b" style="top:933px;font-size:16px;line-height:16px;left:711.5px;">22</span>
<span class="t" style="top:968px;font-size:16px;line-height:16px;left:6px;color:#1c1c1c;">Calcium</span>
<span class="t b" style="top:965px;font-size:16px;line-height:16px;left:147.7px;width:300px;text-align:center;">Ca</span>
<span class="t b" style="top:965px;font-size:16px;line-height:16px;right:388.4px;">0</span>
<span class="t b" style="top:965px;font-size:16px;line-height:16px;left:359.5px;width:300px;text-align:center;">0</span>
<span class="t b" style="top:966px;font-size:14px;line-height:14px;left:438.8px;width:300px;text-align:center;">C</span>
<span class="t" style="top:1000px;font-size:16px;line-height:16px;left:6px;color:#1c1c1c;">Chrome (K+ Elements)</span>
<span class="t b" style="top:997px;font-size:16px;line-height:16px;left:147.7px;width:300px;text-align:center;">Cr</span>
<span class="t b" style="top:997px;font-size:16px;line-height:16px;right:388.4px;">14,2</span>
<span class="t b" style="top:997px;font-size:16px;line-height:16px;left:359.5px;width:300px;text-align:center;">14,2</span>
<span class="t b" style="top:998px;font-size:14px;line-height:14px;left:438.8px;width:300px;text-align:center;">D</span>
<span class="t b" style="top:997px;font-size:16px;line-height:16px;left:503.8px;width:300px;text-align:center;">3</span>
<span class="t b" style="top:997px;font-size:16px;line-height:16px;left:711.5px;">4,7</span>
<svg class="a" style="left:260px;top:989.22px" width="8.5" height="8.5" viewBox="0 0 8.5 8.5"><path d="M0 0H8.5V8.5Z" fill="#000"/></svg>
<span class="t" style="top:1032px;font-size:16px;line-height:16px;left:6px;color:#1c1c1c;">Fluoride (A- Elements)</span>
<span class="t b" style="top:1029px;font-size:16px;line-height:16px;left:147.7px;width:300px;text-align:center;">F</span>
<span class="t b" style="top:1029px;font-size:16px;line-height:16px;right:388.4px;">138</span>
<span class="t b" style="top:1029px;font-size:16px;line-height:16px;left:359.5px;width:300px;text-align:center;">126</span>
<span class="t b" style="top:1030px;font-size:14px;line-height:14px;left:438.8px;width:300px;text-align:center;">C</span>
<span class="t b" style="top:1029px;font-size:16px;line-height:16px;left:503.8px;width:300px;text-align:center;">1</span>
<span class="t b" style="top:1029px;font-size:16px;line-height:16px;left:711.5px;">138</span>
<svg class="a" style="left:260px;top:1021.16px" width="8.5" height="8.5" viewBox="0 0 8.5 8.5"><path d="M0 0H8.5V8.5Z" fill="#000"/></svg>
<span class="t" style="top:1064px;font-size:16px;line-height:16px;left:6px;color:#1c1c1c;">Copper (K+ Elements)</span>
<span class="t b" style="top:1061px;font-size:16px;line-height:16px;left:147.7px;width:300px;text-align:center;">Cu</span>
<span class="t b" style="top:1061px;font-size:16px;line-height:16px;right:388.4px;">0</span>
<span class="t b" style="top:1061px;font-size:16px;line-height:16px;left:359.5px;width:300px;text-align:center;">24</span>
<span class="t b" style="top:1062px;font-size:14px;line-height:14px;left:438.8px;width:300px;text-align:center;">D</span>
<span class="t b" style="top:1061px;font-size:16px;line-height:16px;left:503.8px;width:300px;text-align:center;">2</span>
<span class="t b" style="top:1061px;font-size:16px;line-height:16px;left:711.5px;">12</span>
<svg class="a" style="left:260px;top:1053.1px" width="8.5" height="8.5" viewBox="0 0 8.5 8.5"><path d="M0 0H8.5V8.5Z" fill="#000"/></svg>
<span class="t" style="top:1096px;font-size:16px;line-height:16px;left:6px;color:#1c1c1c;">Lithium (A- Elements)</span>
<span class="t b" style="top:1093px;font-size:16px;line-height:16px;left:147.7px;width:300px;text-align:center;">Li</span>
<span class="t b" style="top:1093px;font-size:16px;line-height:16px;right:388.4px;">0</span>
<span class="t b" style="top:1093px;font-size:16px;line-height:16px;left:359.5px;width:300px;text-align:center;">0</span>
<span class="t b" style="top:1094px;font-size:14px;line-height:14px;left:438.8px;width:300px;text-align:center;">C</span>
<span class="t" style="top:1128px;font-size:16px;line-height:16px;left:6px;color:#1c1c1c;">Magnesium</span>
<span class="t b" style="top:1125px;font-size:16px;line-height:16px;left:147.7px;width:300px;text-align:center;">Mg</span>
<span class="t b" style="top:1125px;font-size:16px;line-height:16px;right:388.4px;">0</span>
<span class="t b" style="top:1125px;font-size:16px;line-height:16px;left:359.5px;width:300px;text-align:center;">0</span>
<span class="t b" style="top:1126px;font-size:14px;line-height:14px;left:438.8px;width:300px;text-align:center;">C</span>
<span class="t" style="top:1160px;font-size:16px;line-height:16px;left:6px;color:#1c1c1c;">Manganese (K+ Elements)</span>
<span class="t b" style="top:1157px;font-size:16px;line-height:16px;left:147.7px;width:300px;text-align:center;">Mn</span>
<span class="t b" style="top:1157px;font-size:16px;line-height:16px;right:388.4px;">0</span>
<span class="t b" style="top:1157px;font-size:16px;line-height:16px;left:359.5px;width:300px;text-align:center;">0</span>
<span class="t b" style="top:1158px;font-size:14px;line-height:14px;left:438.8px;width:300px;text-align:center;">D</span>
<span class="t" style="top:1192px;font-size:16px;line-height:16px;left:6px;color:#1c1c1c;">Molybdenum (A- Elements)</span>
<span class="t b" style="top:1189px;font-size:16px;line-height:16px;left:147.7px;width:300px;text-align:center;">Mo</span>
<span class="t b" style="top:1189px;font-size:16px;line-height:16px;right:388.4px;">0</span>
<span class="t b" style="top:1189px;font-size:16px;line-height:16px;left:359.5px;width:300px;text-align:center;">0</span>
<span class="t b" style="top:1190px;font-size:14px;line-height:14px;left:438.8px;width:300px;text-align:center;">C</span>
<span class="t" style="top:1224px;font-size:16px;line-height:16px;left:6px;color:#1c1c1c;">Nickel (K+ Elements)</span>
<span class="t b" style="top:1221px;font-size:16px;line-height:16px;left:147.7px;width:300px;text-align:center;">Ni</span>
<span class="t b" style="top:1221px;font-size:16px;line-height:16px;right:388.4px;">5</span>
<span class="t b" style="top:1221px;font-size:16px;line-height:16px;left:359.5px;width:300px;text-align:center;">4,8</span>
<span class="t b" style="top:1222px;font-size:14px;line-height:14px;left:438.8px;width:300px;text-align:center;">D</span>
<span class="t b" style="top:1221px;font-size:16px;line-height:16px;left:503.8px;width:300px;text-align:center;">1</span>
<span class="t b" style="top:1221px;font-size:16px;line-height:16px;left:711.5px;">5</span>
<svg class="a" style="left:260px;top:1212.8px" width="8.5" height="8.5" viewBox="0 0 8.5 8.5"><path d="M0 0H8.5V8.5Z" fill="#000"/></svg>
<span class="t" style="top:1256px;font-size:16px;line-height:16px;left:6px;color:#1c1c1c;">Vanadium (A- Elements)</span>
<span class="t b" style="top:1253px;font-size:16px;line-height:16px;left:147.7px;width:300px;text-align:center;">V</span>
<span class="t b" style="top:1253px;font-size:16px;line-height:16px;right:388.4px;">6</span>
<span class="t b" style="top:1253px;font-size:16px;line-height:16px;left:359.5px;width:300px;text-align:center;">0</span>
<span class="t b" style="top:1254px;font-size:14px;line-height:14px;left:438.8px;width:300px;text-align:center;">D</span>
<span class="t b" style="top:1253px;font-size:16px;line-height:16px;left:503.8px;width:300px;text-align:center;">3</span>
<span class="t b" style="top:1253px;font-size:16px;line-height:16px;left:711.5px;">2</span>
<span class="t" style="top:1285px;font-size:16px;line-height:16px;left:6px;color:#1c1c1c;">Zinc (K+ Elements)</span>
<span class="t b" style="top:1284px;font-size:16px;line-height:16px;left:147.7px;width:300px;text-align:center;">Zn</span>
<span class="t b" style="top:1284px;font-size:16px;line-height:16px;right:388.4px;">3,3</span>
<span class="t b" style="top:1284px;font-size:16px;line-height:16px;left:359.5px;width:300px;text-align:center;">2,4</span>
<span class="t b" style="top:1285px;font-size:14px;line-height:14px;left:438.8px;width:300px;text-align:center;">D</span>
<span class="t b" style="top:1284px;font-size:16px;line-height:16px;left:503.8px;width:300px;text-align:center;">2</span>
<span class="t b" style="top:1284px;font-size:16px;line-height:16px;left:711.5px;">1,7</span>
<svg class="a" style="left:260px;top:1276.68px" width="8.5" height="8.5" viewBox="0 0 8.5 8.5"><path d="M0 0H8.5V8.5Z" fill="#000"/></svg>
<div style="left:794.2px;top:810.1px;width:3px;height:498.9px;background:#fb0d0d;"></div>
<div style="left:0px;top:1305.7px;width:797.2px;height:3.3px;background:#fb0d0d;"></div>
<div style="left:0px;top:0px;width:1.1px;height:1325px;background:#cdcdcd;"></div>
<div style="left:600px;top:669px;width:197.2px;height:33px;border:3px solid #1f7af5;border-left-width:2.5px;box-sizing:border-box;background:transparent"></div>
<div style="left:790.2px;top:695.4px;width:13.2px;height:13.2px;border-radius:50%;background:#0d5bdb;border:1px solid #e9f0fb;box-sizing:border-box"></div>
</div></body></html>
